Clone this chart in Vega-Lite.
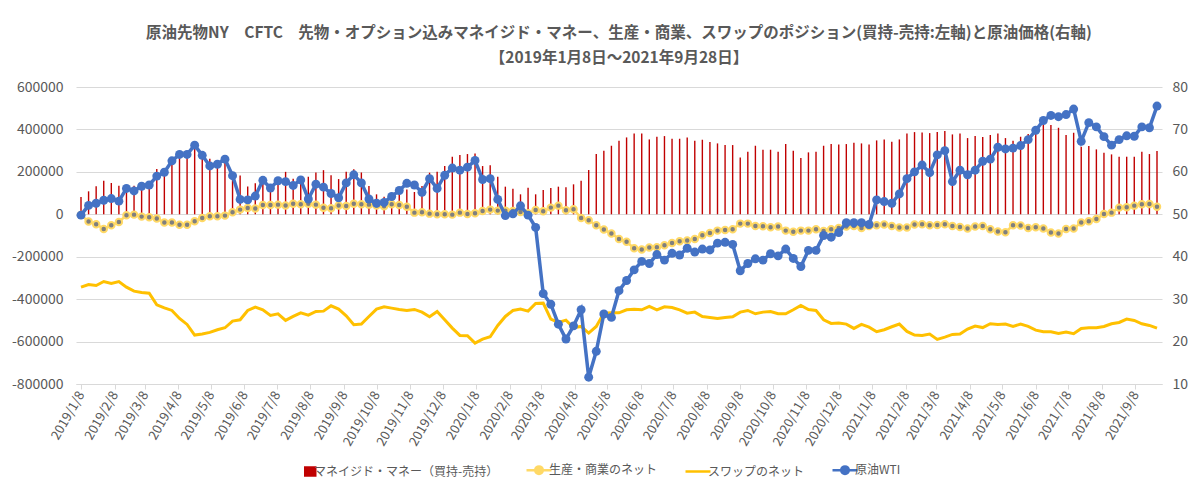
{
"$schema": "https://vega.github.io/schema/vega-lite/v6.json",
"width": 1086, "height": 297,
"autosize": {"type": "none"},
"padding": {"left": 76, "top": 87, "right": 38, "bottom": 113},
"background": "white",
"title": {"text": ["原油先物NY　CFTC　先物・オプション込みマネイジド・マネー、生産・商業、スワップのポジション(買持-売持:左軸)と原油価格(右軸)", "【2019年1月8日～2021年9月28日】"], "fontSize": 15.5, "fontWeight": "bold", "color": "#595959", "font": "Noto Sans CJK JP", "lineHeight": 25, "offset": 14, "anchor": "middle"},
"data": {"values": [
{"d":"2019-01-08","mm":81600,"prod":-3000,"swap":-343500,"wti":49.8},
{"d":"2019-01-15","mm":108200,"prod":-34500,"swap":-331000,"wti":52.1},
{"d":"2019-01-22","mm":131800,"prod":-47000,"swap":-335700,"wti":52.6},
{"d":"2019-01-29","mm":158400,"prod":-69000,"swap":-316900,"wti":53.3},
{"d":"2019-02-05","mm":147400,"prod":-52000,"swap":-326300,"wti":53.7},
{"d":"2019-02-12","mm":134900,"prod":-36000,"swap":-316900,"wti":53.1},
{"d":"2019-02-19","mm":130000,"prod":-4700,"swap":-343500,"wti":56.1},
{"d":"2019-02-26","mm":135000,"prod":-1600,"swap":-362300,"wti":55.5},
{"d":"2019-03-05","mm":142700,"prod":-11000,"swap":-368600,"wti":56.6},
{"d":"2019-03-12","mm":155000,"prod":-14000,"swap":-371800,"wti":56.9},
{"d":"2019-03-19","mm":213300,"prod":-20000,"swap":-426700,"wti":59.0},
{"d":"2019-03-26","mm":218000,"prod":-39000,"swap":-440800,"wti":59.9},
{"d":"2019-04-02","mm":250000,"prod":-39000,"swap":-453300,"wti":62.6},
{"d":"2019-04-09","mm":270000,"prod":-49000,"swap":-491000,"wti":64.1},
{"d":"2019-04-16","mm":300000,"prod":-49000,"swap":-519200,"wti":64.1},
{"d":"2019-04-23","mm":310000,"prod":-33000,"swap":-569400,"wti":66.3},
{"d":"2019-04-30","mm":295000,"prod":-17000,"swap":-564700,"wti":63.9},
{"d":"2019-05-07","mm":262000,"prod":-9400,"swap":-556900,"wti":61.4},
{"d":"2019-05-14","mm":252000,"prod":-9400,"swap":-544300,"wti":61.8},
{"d":"2019-05-21","mm":250000,"prod":-6300,"swap":-534900,"wti":63.0},
{"d":"2019-05-28","mm":190000,"prod":9400,"swap":-503500,"wti":59.1},
{"d":"2019-06-04","mm":183000,"prod":22000,"swap":-497200,"wti":53.5},
{"d":"2019-06-11","mm":131000,"prod":30000,"swap":-453300,"wti":53.4},
{"d":"2019-06-18","mm":146000,"prod":27000,"swap":-437600,"wti":54.3},
{"d":"2019-06-25","mm":168000,"prod":44000,"swap":-450200,"wti":58.0},
{"d":"2019-07-02","mm":125000,"prod":44000,"swap":-476900,"wti":56.2},
{"d":"2019-07-09","mm":165000,"prod":45500,"swap":-469000,"wti":57.9},
{"d":"2019-07-16","mm":200000,"prod":41000,"swap":-500400,"wti":57.7},
{"d":"2019-07-23","mm":168000,"prod":50000,"swap":-481600,"wti":56.8},
{"d":"2019-07-30","mm":168000,"prod":47000,"swap":-464300,"wti":58.1},
{"d":"2019-08-06","mm":177000,"prod":50000,"swap":-475300,"wti":53.6},
{"d":"2019-08-13","mm":197000,"prod":45500,"swap":-458000,"wti":57.1},
{"d":"2019-08-20","mm":208000,"prod":31000,"swap":-456500,"wti":56.4},
{"d":"2019-08-27","mm":184000,"prod":28000,"swap":-431400,"wti":54.9},
{"d":"2019-09-03","mm":166000,"prod":41000,"swap":-447100,"wti":53.9},
{"d":"2019-09-10","mm":200000,"prod":39000,"swap":-478400,"wti":57.4},
{"d":"2019-09-17","mm":212000,"prod":50000,"swap":-520800,"wti":59.3},
{"d":"2019-09-24","mm":197000,"prod":47000,"swap":-517600,"wti":57.4},
{"d":"2019-10-01","mm":133000,"prod":45500,"swap":-481600,"wti":53.6},
{"d":"2019-10-08","mm":94000,"prod":41000,"swap":-447100,"wti":52.6},
{"d":"2019-10-15","mm":83000,"prod":37600,"swap":-436100,"wti":52.8},
{"d":"2019-10-22","mm":92000,"prod":47000,"swap":-442300,"wti":54.2},
{"d":"2019-10-29","mm":117000,"prod":44000,"swap":-448600,"wti":55.6},
{"d":"2019-11-05","mm":117000,"prod":36000,"swap":-453300,"wti":57.3},
{"d":"2019-11-12","mm":105000,"prod":7800,"swap":-448600,"wti":56.9},
{"d":"2019-11-19","mm":133000,"prod":9400,"swap":-461200,"wti":55.2},
{"d":"2019-11-26","mm":196000,"prod":3100,"swap":-483100,"wti":58.4},
{"d":"2019-12-03","mm":200000,"prod":0,"swap":-458000,"wti":56.1},
{"d":"2019-12-10","mm":227400,"prod":0,"swap":-497200,"wti":59.2},
{"d":"2019-12-17","mm":271400,"prod":-1600,"swap":-536500,"wti":60.9},
{"d":"2019-12-24","mm":279200,"prod":7800,"swap":-571000,"wti":60.4},
{"d":"2019-12-31","mm":283900,"prod":1600,"swap":-572500,"wti":61.1},
{"d":"2020-01-07","mm":287000,"prod":4700,"swap":-607000,"wti":62.7},
{"d":"2020-01-14","mm":227400,"prod":15700,"swap":-588200,"wti":58.2},
{"d":"2020-01-21","mm":230600,"prod":22000,"swap":-577200,"wti":58.4},
{"d":"2020-01-28","mm":177200,"prod":17300,"swap":-523900,"wti":53.5},
{"d":"2020-02-04","mm":130200,"prod":17300,"swap":-481600,"wti":49.7},
{"d":"2020-02-11","mm":120800,"prod":15700,"swap":-453300,"wti":50.1},
{"d":"2020-02-18","mm":94100,"prod":11000,"swap":-447100,"wti":52.0},
{"d":"2020-02-25","mm":125500,"prod":4700,"swap":-456500,"wti":49.8},
{"d":"2020-03-03","mm":94100,"prod":20400,"swap":-420400,"wti":46.9},
{"d":"2020-03-10","mm":114500,"prod":14100,"swap":-418800,"wti":31.3},
{"d":"2020-03-17","mm":123900,"prod":31400,"swap":-494100,"wti":28.8},
{"d":"2020-03-24","mm":130200,"prod":40800,"swap":-509800,"wti":24.1},
{"d":"2020-03-31","mm":127100,"prod":18800,"swap":-498800,"wti":20.6},
{"d":"2020-04-07","mm":141200,"prod":23500,"swap":-534900,"wti":23.7},
{"d":"2020-04-14","mm":158400,"prod":-17300,"swap":-528600,"wti":27.5},
{"d":"2020-04-21","mm":208600,"prod":-28200,"swap":-560000,"wti":11.6},
{"d":"2020-04-28","mm":283900,"prod":-51800,"swap":-528600,"wti":17.7},
{"d":"2020-05-05","mm":299600,"prod":-72200,"swap":-465900,"wti":26.5},
{"d":"2020-05-12","mm":323100,"prod":-91000,"swap":-464300,"wti":25.7},
{"d":"2020-05-19","mm":346700,"prod":-116000,"swap":-464300,"wti":32.0},
{"d":"2020-05-26","mm":362300,"prod":-130000,"swap":-450200,"wti":34.4},
{"d":"2020-06-02","mm":381200,"prod":-160000,"swap":-447100,"wti":36.9},
{"d":"2020-06-09","mm":381200,"prod":-166000,"swap":-450200,"wti":38.9},
{"d":"2020-06-16","mm":352900,"prod":-157000,"swap":-434500,"wti":38.4},
{"d":"2020-06-23","mm":365500,"prod":-155000,"swap":-450200,"wti":40.5},
{"d":"2020-06-30","mm":368600,"prod":-146000,"swap":-436100,"wti":39.2},
{"d":"2020-07-07","mm":356100,"prod":-135000,"swap":-439200,"wti":40.8},
{"d":"2020-07-14","mm":356100,"prod":-127000,"swap":-450200,"wti":40.4},
{"d":"2020-07-21","mm":362300,"prod":-124000,"swap":-465900,"wti":42.0},
{"d":"2020-07-28","mm":346700,"prod":-116000,"swap":-461200,"wti":41.1},
{"d":"2020-08-04","mm":351400,"prod":-99000,"swap":-481600,"wti":41.8},
{"d":"2020-08-11","mm":340400,"prod":-88000,"swap":-486300,"wti":41.6},
{"d":"2020-08-18","mm":334100,"prod":-77000,"swap":-491000,"wti":43.2},
{"d":"2020-08-25","mm":326300,"prod":-74000,"swap":-486300,"wti":43.4},
{"d":"2020-09-01","mm":326300,"prod":-71000,"swap":-483100,"wti":42.9},
{"d":"2020-09-08","mm":268200,"prod":-44000,"swap":-461200,"wti":36.7},
{"d":"2020-09-15","mm":294900,"prod":-44000,"swap":-453300,"wti":38.4},
{"d":"2020-09-22","mm":323100,"prod":-55000,"swap":-469000,"wti":39.5},
{"d":"2020-09-29","mm":304300,"prod":-56000,"swap":-461200,"wti":39.2},
{"d":"2020-10-06","mm":304300,"prod":-61000,"swap":-458000,"wti":40.7},
{"d":"2020-10-13","mm":294900,"prod":-58000,"swap":-469000,"wti":40.2},
{"d":"2020-10-20","mm":331000,"prod":-77000,"swap":-469000,"wti":41.8},
{"d":"2020-10-27","mm":299600,"prod":-82000,"swap":-450200,"wti":39.6},
{"d":"2020-11-03","mm":265100,"prod":-77000,"swap":-429800,"wti":37.7},
{"d":"2020-11-10","mm":291800,"prod":-77000,"swap":-448600,"wti":41.5},
{"d":"2020-11-17","mm":294900,"prod":-70600,"swap":-453300,"wti":41.5},
{"d":"2020-11-24","mm":323100,"prod":-78400,"swap":-497200,"wti":45.0},
{"d":"2020-12-01","mm":331000,"prod":-70600,"swap":-514500,"wti":44.6},
{"d":"2020-12-08","mm":329400,"prod":-64300,"swap":-512900,"wti":45.7},
{"d":"2020-12-15","mm":331000,"prod":-58000,"swap":-517600,"wti":48.0},
{"d":"2020-12-22","mm":337200,"prod":-55000,"swap":-538000,"wti":48.0},
{"d":"2020-12-29","mm":334100,"prod":-64300,"swap":-519200,"wti":48.0},
{"d":"2021-01-05","mm":329400,"prod":-55000,"swap":-531800,"wti":47.6},
{"d":"2021-01-12","mm":348200,"prod":-51800,"swap":-553700,"wti":53.4},
{"d":"2021-01-19","mm":352900,"prod":-48600,"swap":-544300,"wti":53.0},
{"d":"2021-01-26","mm":342000,"prod":-55000,"swap":-530200,"wti":52.6},
{"d":"2021-02-02","mm":352900,"prod":-62700,"swap":-517600,"wti":54.8},
{"d":"2021-02-09","mm":381200,"prod":-62700,"swap":-552100,"wti":58.4},
{"d":"2021-02-16","mm":387400,"prod":-48600,"swap":-569400,"wti":60.0},
{"d":"2021-02-23","mm":385900,"prod":-47000,"swap":-571000,"wti":61.6},
{"d":"2021-03-02","mm":382700,"prod":-51800,"swap":-564700,"wti":59.8},
{"d":"2021-03-09","mm":387400,"prod":-50200,"swap":-589800,"wti":64.0},
{"d":"2021-03-16","mm":392200,"prod":-47000,"swap":-578800,"wti":65.0},
{"d":"2021-03-23","mm":376500,"prod":-55000,"swap":-566300,"wti":57.7},
{"d":"2021-03-30","mm":381200,"prod":-59600,"swap":-564700,"wti":60.4},
{"d":"2021-04-06","mm":359200,"prod":-67400,"swap":-541200,"wti":59.3},
{"d":"2021-04-13","mm":368600,"prod":-58000,"swap":-527000,"wti":60.4},
{"d":"2021-04-20","mm":363900,"prod":-55000,"swap":-534000,"wti":62.5},
{"d":"2021-04-27","mm":373300,"prod":-70600,"swap":-516100,"wti":63.0},
{"d":"2021-05-04","mm":381200,"prod":-81600,"swap":-519200,"wti":65.8},
{"d":"2021-05-11","mm":359200,"prod":-84700,"swap":-517600,"wti":65.4},
{"d":"2021-05-18","mm":346700,"prod":-51800,"swap":-528600,"wti":65.6},
{"d":"2021-05-25","mm":365500,"prod":-53300,"swap":-517600,"wti":66.2},
{"d":"2021-06-01","mm":378000,"prod":-64300,"swap":-528600,"wti":67.6},
{"d":"2021-06-08","mm":393700,"prod":-61200,"swap":-545900,"wti":69.8},
{"d":"2021-06-15","mm":423500,"prod":-67400,"swap":-553700,"wti":72.1},
{"d":"2021-06-22","mm":420400,"prod":-86300,"swap":-553700,"wti":73.3},
{"d":"2021-06-29","mm":407800,"prod":-91000,"swap":-561600,"wti":73.0},
{"d":"2021-07-06","mm":373300,"prod":-69000,"swap":-555300,"wti":73.5},
{"d":"2021-07-13","mm":384300,"prod":-67400,"swap":-563100,"wti":74.8},
{"d":"2021-07-20","mm":318400,"prod":-39200,"swap":-538000,"wti":67.2},
{"d":"2021-07-27","mm":321600,"prod":-33000,"swap":-534900,"wti":71.6},
{"d":"2021-08-03","mm":305900,"prod":-22000,"swap":-534900,"wti":70.6},
{"d":"2021-08-10","mm":290200,"prod":1600,"swap":-528600,"wti":68.3},
{"d":"2021-08-17","mm":282300,"prod":7800,"swap":-516100,"wti":66.3},
{"d":"2021-08-24","mm":271400,"prod":31400,"swap":-509800,"wti":67.6},
{"d":"2021-08-31","mm":271400,"prod":33000,"swap":-494100,"wti":68.5},
{"d":"2021-09-07","mm":271400,"prod":40800,"swap":-500400,"wti":68.4},
{"d":"2021-09-14","mm":294900,"prod":47000,"swap":-516100,"wti":70.6},
{"d":"2021-09-21","mm":283900,"prod":48600,"swap":-523900,"wti":70.4},
{"d":"2021-09-28","mm":298000,"prod":36000,"swap":-536500,"wti":75.5}
]},
"encoding": {
  "x": {"field": "d", "type": "temporal",
    "scale": {"type": "utc", "domain": [{"year":2019,"month":1,"date":8,"utc":true},{"year":2021,"month":9,"date":28,"utc":true}]},
    "axis": {"title": null, "grid": false, "labelAngle": -60, "labelAlign": "right", "labelBaseline": "middle", "labelOverlap": false, "labelFontSize": 13, "labelPadding": 3, "domainColor": "#D9D9D9", "tickColor": "#D9D9D9", "tickSize": 5,
      "labelExpr": "utcFormat(datum.value, '%Y/%-m/%-d')",
      "values": [
        {"year":2019,"month":1,"date":8,"utc":true},{"year":2019,"month":2,"date":8,"utc":true},{"year":2019,"month":3,"date":8,"utc":true},{"year":2019,"month":4,"date":8,"utc":true},{"year":2019,"month":5,"date":8,"utc":true},{"year":2019,"month":6,"date":8,"utc":true},{"year":2019,"month":7,"date":8,"utc":true},{"year":2019,"month":8,"date":8,"utc":true},{"year":2019,"month":9,"date":8,"utc":true},{"year":2019,"month":10,"date":8,"utc":true},{"year":2019,"month":11,"date":8,"utc":true},{"year":2019,"month":12,"date":8,"utc":true},
        {"year":2020,"month":1,"date":8,"utc":true},{"year":2020,"month":2,"date":8,"utc":true},{"year":2020,"month":3,"date":8,"utc":true},{"year":2020,"month":4,"date":8,"utc":true},{"year":2020,"month":5,"date":8,"utc":true},{"year":2020,"month":6,"date":8,"utc":true},{"year":2020,"month":7,"date":8,"utc":true},{"year":2020,"month":8,"date":8,"utc":true},{"year":2020,"month":9,"date":8,"utc":true},{"year":2020,"month":10,"date":8,"utc":true},{"year":2020,"month":11,"date":8,"utc":true},{"year":2020,"month":12,"date":8,"utc":true},
        {"year":2021,"month":1,"date":8,"utc":true},{"year":2021,"month":2,"date":8,"utc":true},{"year":2021,"month":3,"date":8,"utc":true},{"year":2021,"month":4,"date":8,"utc":true},{"year":2021,"month":5,"date":8,"utc":true},{"year":2021,"month":6,"date":8,"utc":true},{"year":2021,"month":7,"date":8,"utc":true},{"year":2021,"month":8,"date":8,"utc":true},{"year":2021,"month":9,"date":8,"utc":true}
      ]}}
},
"layer": [
  {"layer": [
    {"mark": {"type": "bar", "width": 1.4},
     "encoding": {
       "y": {"field": "mm", "type": "quantitative", "scale": {"domain": [-800000, 600000], "nice": false},
             "axis": {"orient": "left", "title": null, "values": [-800000,-600000,-400000,-200000,0,200000,400000,600000], "grid": true, "gridColor": "#D9D9D9", "domain": false, "ticks": false, "labelPadding": 13, "labelFontSize": 14, "labelExpr": "datum.value + ''"}},
       "color": {"datum": "マネイジド・マネー（買持-売持）",
         "scale": {"domain": ["マネイジド・マネー（買持-売持）", "生産・商業のネット", "スワップのネット", "原油WTI"], "range": ["#C00000", "#FFD966", "#FFC000", "#4472C4"]},
         "legend": {"title": null, "orient": "none", "direction": "horizontal", "legendX": 222, "legendY": 377, "symbolSize": 625, "labelFontSize": 12, "labelLimit": 400, "labelColor": "#595959", "labelFont": "Noto Sans CJK JP", "columnPadding": 22, "labelOffset": 4,
           "encode": {"symbols": {"update": {
             "shape": {"signal": "datum.value === 'マネイジド・マネー（買持-売持）' ? 'M0,-0.42H1V0.42H0Z' : (datum.value === 'スワップのネット' ? 'M-1,0H1' : 'M-1,0H-0.3M0.3,0H1M-0.3,0A0.3,0.3 0 1,1 0.3,0A0.3,0.3 0 1,1 -0.3,0')"},
             "fill": {"signal": "datum.value === 'マネイジド・マネー（買持-売持）' ? '#C00000' : (datum.value === '生産・商業のネット' ? '#7F7F7F' : (datum.value === '原油WTI' ? '#4472C4' : 'transparent'))"},
             "stroke": {"signal": "datum.value === 'マネイジド・マネー（買持-売持）' ? '#C00000' : (datum.value === '生産・商業のネット' ? '#FFD966' : (datum.value === '原油WTI' ? '#4472C4' : '#FFC000'))"},
             "strokeWidth": {"signal": "datum.value === 'マネイジド・マネー（買持-売持）' ? 0 : 2.5"},
             "opacity": {"value": 1}, "fillOpacity": {"value": 1}, "strokeOpacity": {"value": 1}
           }}}}}
     }},
    {"mark": {"type": "line", "strokeWidth": 2.5},
     "encoding": {"y": {"field": "prod", "type": "quantitative"}, "color": {"datum": "生産・商業のネット"}}},
    {"mark": {"type": "point", "filled": true, "fill": "#7F7F7F", "stroke": "#FFD966", "strokeWidth": 2, "size": 42, "opacity": 1},
     "encoding": {"y": {"field": "prod", "type": "quantitative"}}},
    {"mark": {"type": "line", "strokeWidth": 3},
     "encoding": {"y": {"field": "swap", "type": "quantitative"}, "color": {"datum": "スワップのネット"}}}
  ]},
  {"mark": {"type": "line", "strokeWidth": 3.5, "point": {"filled": true, "size": 80}},
   "encoding": {
     "y": {"field": "wti", "type": "quantitative", "scale": {"domain": [10, 80], "nice": false},
           "axis": {"orient": "right", "title": null, "values": [10,20,30,40,50,60,70,80], "grid": false, "domain": false, "ticks": false, "labelPadding": 10, "labelFontSize": 14}},
     "color": {"datum": "原油WTI"}}}
],
"resolve": {"scale": {"y": "independent"}},
"config": {
  "view": {"stroke": null},
  "axis": {"labelFont": "Noto Sans CJK JP", "labelColor": "#595959"},
  "legend": {"labelFont": "Noto Sans CJK JP"}
}
}
